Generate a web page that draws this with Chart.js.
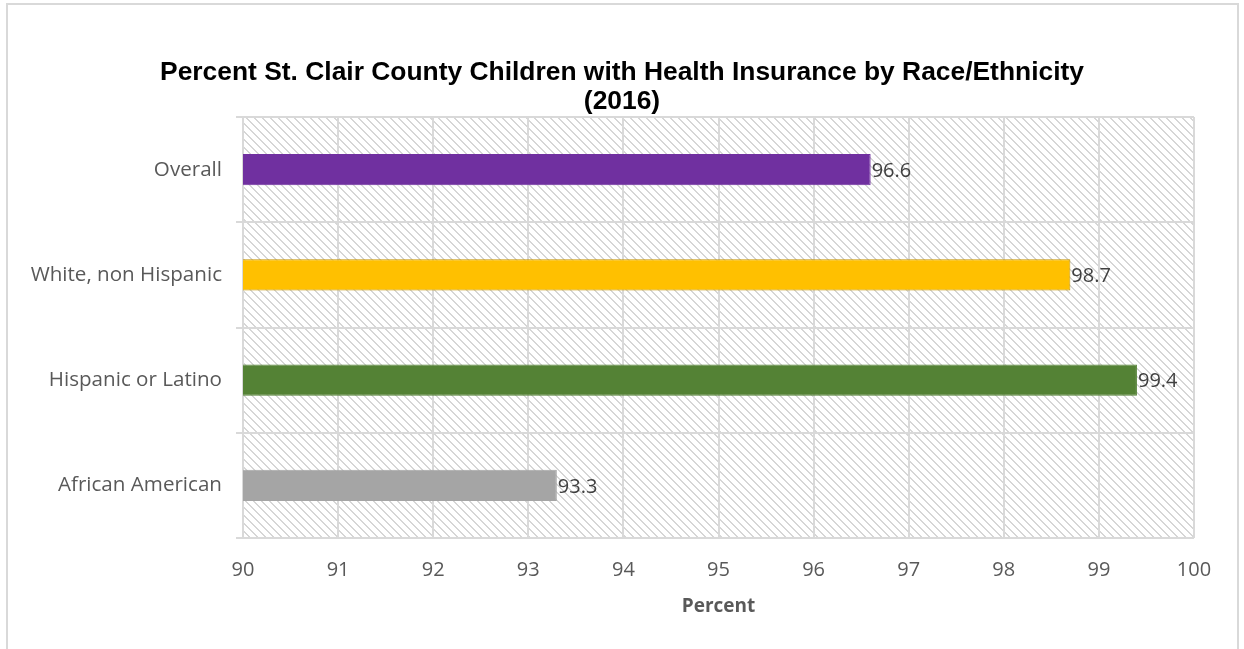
<!DOCTYPE html>
<html>
<head>
<meta charset="utf-8">
<script src="https://cdn.jsdelivr.net/npm/chart.js@4.4.1/dist/chart.umd.min.js"></script>
<style>
  html, body { margin: 0; padding: 0; background: #fff; overflow: hidden; }
  #frame {
    position: absolute; left: 6px; top: 3px; width: 1233px; height: 700px;
    border: 2px solid #d9d9d9; box-sizing: border-box;
  }
  #wrap { position: absolute; left: 0; top: 0; width: 1244px; height: 649px; }
</style>
</head>
<body>
<div id="frame"></div>
<div id="wrap"><canvas id="chart"></canvas></div>
<script>
const categories = ['Overall', 'White, non Hispanic', 'Hispanic or Latino', 'African American'];
const percentValues = [96.6, 98.7, 99.4, 93.3];
const barColors = ['#7030A0', '#FFC000', '#548235', '#A5A5A5'];
const barBorders = ['#7030A0', '#C49300', '#548235', '#A5A5A5'];
const titleLines = ['Percent St. Clair County Children with Health Insurance by Race/Ethnicity', '(2016)'];
const xMin = 90, xMax = 100, xStep = 1;

const labelFont = "'Open Sans', 'Liberation Sans', sans-serif";

// diagonal hatch used behind the bars
function makeHatch() {
    const c = document.createElement('canvas');
    c.width = 8; c.height = 8;
    const g = c.getContext('2d');
    g.fillStyle = '#d6d6d6';
    for (let i = 0; i < 8; i++) {
        g.fillRect(i, i, 1, 1);
        g.fillRect((i + 1) % 8, i, 1, 1);
    }
    return g.createPattern(c, 'repeat');
}

const hatchPlugin = {
    id: 'hatch',
    beforeDraw(chart) {
        const { ctx, chartArea: a } = chart;
        ctx.save();
        ctx.fillStyle = makeHatch();
        ctx.fillRect(a.left, a.top, a.right - a.left, a.bottom - a.top);
        ctx.restore();
    }
};

// title centred on the whole canvas, not just the plot
const pageTitle = {
    id: 'pageTitle',
    afterDraw(chart) {
        const ctx = chart.ctx;
        ctx.save();
        ctx.font = "bold 26.4px 'Liberation Sans', Arial, sans-serif";
        ctx.fillStyle = '#000';
        ctx.textAlign = 'center';
        ctx.textBaseline = 'middle';
        titleLines.forEach((t, i) => ctx.fillText(t, chart.width / 2, 73 + i * 28.5));
        ctx.restore();
    }
};

// value labels just right of each bar
const valueLabels = {
    id: 'valueLabels',
    afterDatasetsDraw(chart) {
        const ctx = chart.ctx;
        const meta = chart.getDatasetMeta(0);
        ctx.save();
        ctx.font = '20px ' + labelFont;
        ctx.fillStyle = '#404040';
        ctx.textAlign = 'left';
        ctx.textBaseline = 'middle';
        meta.data.forEach((bar, i) => {
            ctx.fillText(percentValues[i].toFixed(1), bar.x + 1, bar.y + 1.5);
        });
        ctx.restore();
    }
};

new Chart(document.getElementById('chart'), {
    type: 'bar',
    data: {
        labels: categories,
        datasets: [{
            data: percentValues,
            backgroundColor: barColors,
            borderColor: barBorders,
            borderWidth: 1,
            barPercentage: 0.295,
            categoryPercentage: 1.0
        }]
    },
    options: {
        indexAxis: 'y',
        responsive: true,
        maintainAspectRatio: false,
        animation: false,
        layout: { padding: { left: 0, right: 50, top: 117, bottom: 0 } },
        plugins: {
            legend: { display: false },
            tooltip: { enabled: false },
            title: { display: false }
        },
        scales: {
            x: {
                min: xMin,
                max: xMax,
                ticks: {
                    stepSize: xStep,
                    color: '#595959',
                    font: { family: labelFont, size: 20 },
                    padding: 20
                },
                grid: { color: '#d9d9d9', lineWidth: 2, drawTicks: false },
                border: { display: false },
                title: {
                    display: true,
                    text: 'Percent',
                    color: '#595959',
                    font: { family: labelFont, size: 19, weight: 'bold' },
                    padding: { top: 0, bottom: 31 }
                },
                afterFit(scale) { scale.height = 111; }
            },
            y: {
                ticks: {
                    color: '#595959',
                    font: { family: labelFont, size: 20.6 },
                    padding: 14
                },
                grid: { color: '#d9d9d9', lineWidth: 2, tickLength: 7, offset: true },
                border: { display: false },
                afterFit(scale) { scale.width = 243; }
            }
        }
    },
    plugins: [hatchPlugin, pageTitle, valueLabels]
});
</script>
</body>
</html>
